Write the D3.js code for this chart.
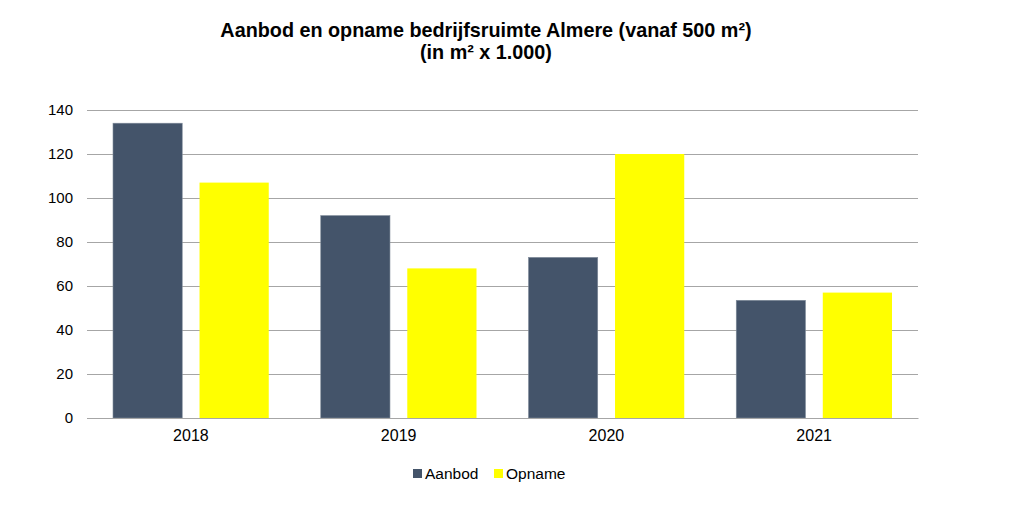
<!DOCTYPE html>
<html><head><meta charset="utf-8">
<script src="https://cdn.jsdelivr.net/npm/d3@7"></script>
<style>body{margin:0;background:#fff}svg{display:block}text{font-family:"Liberation Sans",Arial,sans-serif}</style>
</head><body>
<script>
const years = ["2018","2019","2020","2021"];
const aanbod = [134, 92, 73, 53.5];
const opname = [107, 68, 120, 57];
const seriesNames = ["Aanbod","Opname"];
const colors = ["#44546A","#FFFF00"];
const yTicks = [0,20,40,60,80,100,120,140];

const W=1031,H=509;
const svg=d3.select("body").append("svg").attr("width",W).attr("height",H);
const m={l:87,r:113,t:110,b:91};
const x=d3.scaleBand().domain(years).range([m.l,W-m.r]).paddingInner(0).paddingOuter(0);
const x1=d3.scaleBand().domain(seriesNames).range([26,x.bandwidth()-26]).paddingInner(0.2).paddingOuter(0);
const y=d3.scaleLinear().domain([0,140]).range([H-m.b,m.t]);

svg.append("text").attr("x",486).attr("y",37).attr("text-anchor","middle").attr("font-size",19.8).attr("font-weight","bold").text("Aanbod en opname bedrijfsruimte Almere (vanaf 500 m²)");
svg.append("text").attr("x",486).attr("y",59).attr("text-anchor","middle").attr("font-size",19.8).attr("font-weight","bold").text("(in m² x 1.000)");

const gy=svg.append("g").attr("transform",`translate(${m.l},0)`)
 .call(d3.axisLeft(y).tickValues(yTicks).tickSize(-(W-m.l-m.r)).tickPadding(14));
gy.select(".domain").remove();
gy.selectAll("line").attr("stroke","#A6A6A6").attr("stroke-width",1);
gy.selectAll("text").attr("font-size",15).attr("fill","#000").attr("font-family","Liberation Sans, Arial, sans-serif");

const data=years.map((yr,i)=>({yr,vals:[aanbod[i],opname[i]]}));
const g=svg.append("g");
data.forEach(d=>{
  d.vals.forEach((v,j)=>{
    g.append("rect").attr("x",x(d.yr)+x1(seriesNames[j])).attr("width",x1.bandwidth())
     .attr("y",y(v)).attr("height",y(0)-y(v)).attr("fill",colors[j])
     .attr("stroke",j===0?"#7F8A99":"none").attr("stroke-width",0.6);
  });
});

const gx=svg.append("g").attr("transform",`translate(0,${y(0)})`).call(d3.axisBottom(x).tickSize(0).tickPadding(12));
gx.select(".domain").attr("stroke","#A6A6A6");
gx.selectAll("text").attr("font-size",16).attr("fill","#000").attr("font-family","Liberation Sans, Arial, sans-serif");

const leg=svg.append("g");
const lx=[413,494];
seriesNames.forEach((n,i)=>{
  leg.append("rect").attr("x",lx[i]).attr("y",469).attr("width",9).attr("height",9).attr("fill",colors[i]);
  leg.append("text").attr("x",lx[i]+12).attr("y",479).attr("font-size",15.5).text(n);
});
</script>
</body></html>
